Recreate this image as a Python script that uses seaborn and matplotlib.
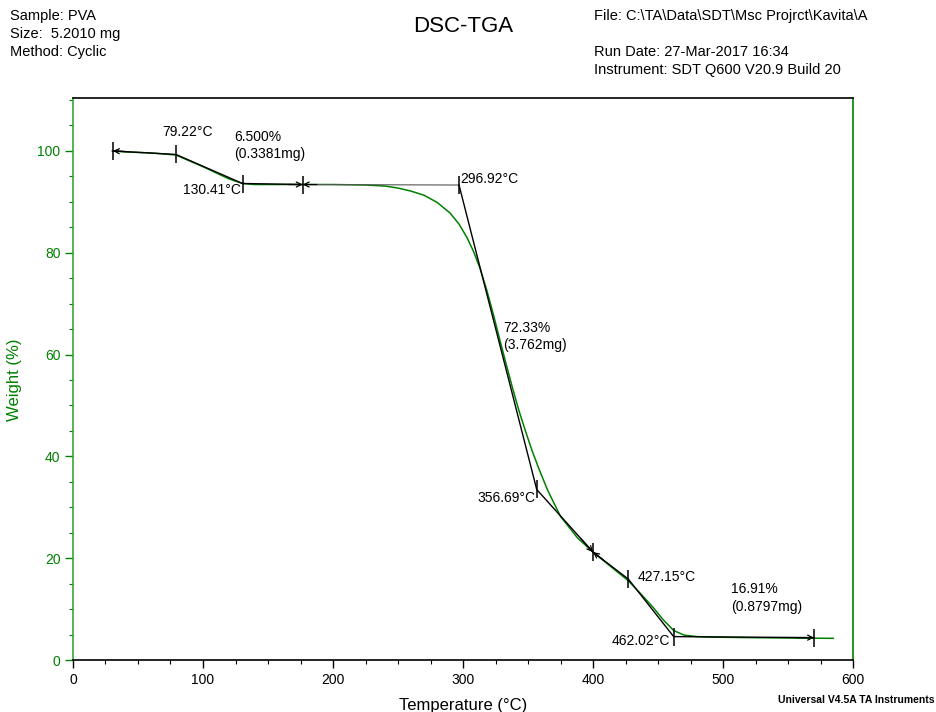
import matplotlib
matplotlib.use("Agg")
import matplotlib.pyplot as plt
from matplotlib.ticker import MultipleLocator
import numpy as np
import pandas as pd
import seaborn as sns

# TGA weight-loss curve of the PVA sample
temperature = [30, 40, 50, 60, 70, 79.2, 90, 100, 110, 120, 130.4, 140, 150, 175,
               200, 225, 240, 250, 260, 270, 280, 290, 297, 303, 308, 313, 318,
               323, 328, 333, 338, 343, 348, 353, 358, 365, 375, 388, 400, 412,
               427, 436, 446, 454, 462, 470, 480, 490, 520, 560, 585]
weight = [100.0, 99.8, 99.7, 99.6, 99.4, 99.2, 98.0, 96.9, 95.7, 94.5, 93.6, 93.4,
          93.4, 93.4, 93.4, 93.3, 93.1, 92.7, 92.1, 91.3, 89.9, 87.8, 85.6, 83.0,
          80.3, 77.0, 72.9, 68.2, 63.2, 58.3, 53.5, 49.0, 45.0, 41.2, 37.8, 33.4,
          28.2, 24.0, 21.2, 18.7, 15.6, 13.2, 10.4, 7.9, 5.8, 4.9, 4.6, 4.5, 4.4,
          4.3, 4.26]

# Step analysis: construction points (temperature, weight)
step_T = [30.7, 79.22, 130.41, 176.7, 296.92, 356.69, 400.0, 427.15, 462.02, 570.0]
step_W = [100.0, 99.3, 93.6, 93.4, 93.3, 33.5, 21.2, 15.9, 4.6, 4.4]
onset_labels = ["79.22°C", "130.41°C", "296.92°C", "356.69°C", "427.15°C", "462.02°C"]
loss_labels = ["6.500%\n(0.3381mg)", "72.33%\n(3.762mg)", "16.91%\n(0.8797mg)"]

GREEN = "#008000"
SPINE_GREEN = "#3aa53a"

sns.set_style("ticks")
plt.rcParams["font.family"] = ["Liberation Sans", "DejaVu Sans"]

fig = plt.figure(figsize=(9.37, 7.12), dpi=100)
ax = fig.add_axes([0.0779, 0.073, 0.8325, 0.7894])

df = pd.DataFrame({"Temperature": temperature, "Weight": weight})
sns.lineplot(data=df, x="Temperature", y="Weight", color=GREEN, lw=1.1, ax=ax,
             zorder=2)

# construction lines
seg_kw = dict(color="black", lw=1.0, zorder=3)
ax.plot(step_T[0:4], step_W[0:4], **seg_kw)
ax.plot(step_T[3:5], step_W[3:5], color="#555555", lw=0.8, zorder=3)
ax.plot(step_T[4:], step_W[4:], **seg_kw)
ax.plot(step_T, step_W, ls="none", marker="|", ms=13, mew=1.1, color="black",
        zorder=4)


def arrow_to(x_end, y_end, x_start, y_start):
    ax.annotate("", xy=(x_end, y_end), xytext=(x_start, y_start),
                arrowprops=dict(arrowstyle="->", lw=0.9, color="black",
                                shrinkA=0, shrinkB=0, mutation_scale=9),
                zorder=5)


def along(i, j, frac):
    return (step_T[i] + (step_T[j] - step_T[i]) * frac,
            step_W[i] + (step_W[j] - step_W[i]) * frac)


# step-limit arrows
arrow_to(step_T[0], step_W[0], step_T[0] + 9, step_W[0] - 0.1)
arrow_to(step_T[3], step_W[3], step_T[3] - 11, step_W[3])
arrow_to(step_T[3], step_W[3], step_T[3] + 11, step_W[3])
x0, y0 = along(5, 6, 0.78)
arrow_to(step_T[6], step_W[6], x0, y0)
x1, y1 = along(6, 7, 0.3)
arrow_to(step_T[6], step_W[6], x1, y1)
arrow_to(step_T[9], step_W[9], step_T[9] - 14, step_W[9])

txt = dict(fontsize=10, color="black", zorder=6)
ax.text(88, 103.7, onset_labels[0], ha="center", va="center", **txt)
ax.text(129, 92.3, onset_labels[1], ha="right", va="center", **txt)
ax.text(298, 94.5, onset_labels[2], ha="left", va="center", **txt)
ax.text(355.7, 31.8, onset_labels[3], ha="right", va="center", **txt)
ax.text(434, 16.3, onset_labels[4], ha="left", va="center", **txt)
ax.text(459, 3.7, onset_labels[5], ha="right", va="center", **txt)
ax.text(124, 101.0, loss_labels[0], ha="left", va="center", linespacing=1.3, **txt)
ax.text(331, 63.6, loss_labels[1], ha="left", va="center", linespacing=1.3, **txt)
ax.text(506, 12.2, loss_labels[2], ha="left", va="center", linespacing=1.3, **txt)

ax.set_xlim(0, 600)
ax.set_ylim(0, 110.4)
ax.xaxis.set_major_locator(MultipleLocator(100))
ax.xaxis.set_minor_locator(MultipleLocator(25))
ax.yaxis.set_major_locator(MultipleLocator(20))
ax.yaxis.set_minor_locator(MultipleLocator(5))

ax.tick_params(axis="x", which="major", direction="out", length=6, width=1.0,
               labelsize=10, colors="black", pad=3)
ax.tick_params(axis="x", which="minor", direction="out", length=3, width=0.8,
               colors="black")
ax.tick_params(axis="y", which="major", direction="out", length=6, width=1.0,
               labelsize=10, colors=GREEN, pad=3)
ax.tick_params(axis="y", which="minor", direction="out", length=3, width=0.8,
               colors=GREEN)
ax.tick_params(left=True, bottom=True, right=False, top=False)

for side in ["top", "right", "left", "bottom"]:
    ax.spines[side].set_visible(True)
    ax.spines[side].set_linewidth(1.2)
ax.spines["top"].set_color("black")
ax.spines["bottom"].set_color("black")
ax.spines["left"].set_color(SPINE_GREEN)
ax.spines["right"].set_color(GREEN)

ax.set_xlabel("Temperature (°C)", fontsize=12, color="black", labelpad=8)
ax.set_ylabel("Weight (%)", fontsize=12, color=GREEN)
ax.yaxis.set_label_coords(-0.066, 0.498)

# header block
hdr = dict(fontsize=10.5, color="black", ha="left", va="center")
fig.text(10 / 937, 1 - 16 / 712, "Sample: PVA", **hdr)
fig.text(10 / 937, 1 - 34 / 712, "Size:  5.2010 mg", **hdr)
fig.text(10 / 937, 1 - 52 / 712, "Method: Cyclic", **hdr)
fig.text(463 / 937, 1 - 27 / 712, "DSC-TGA", fontsize=16, ha="center",
         va="center", color="black")
fig.text(594 / 937, 1 - 16 / 712, r"File: C:\TA\Data\SDT\Msc Projrct\Kavita\A", **hdr)
fig.text(594 / 937, 1 - 52 / 712, "Run Date: 27-Mar-2017 16:34", **hdr)
fig.text(594 / 937, 1 - 70 / 712, "Instrument: SDT Q600 V20.9 Build 20", **hdr)
fig.text(935 / 937, 1 - 700 / 712, "Universal V4.5A TA Instruments", fontsize=7.5,
         fontweight="bold", ha="right", va="center", color="black")

fig.savefig("out.png", dpi=100)
